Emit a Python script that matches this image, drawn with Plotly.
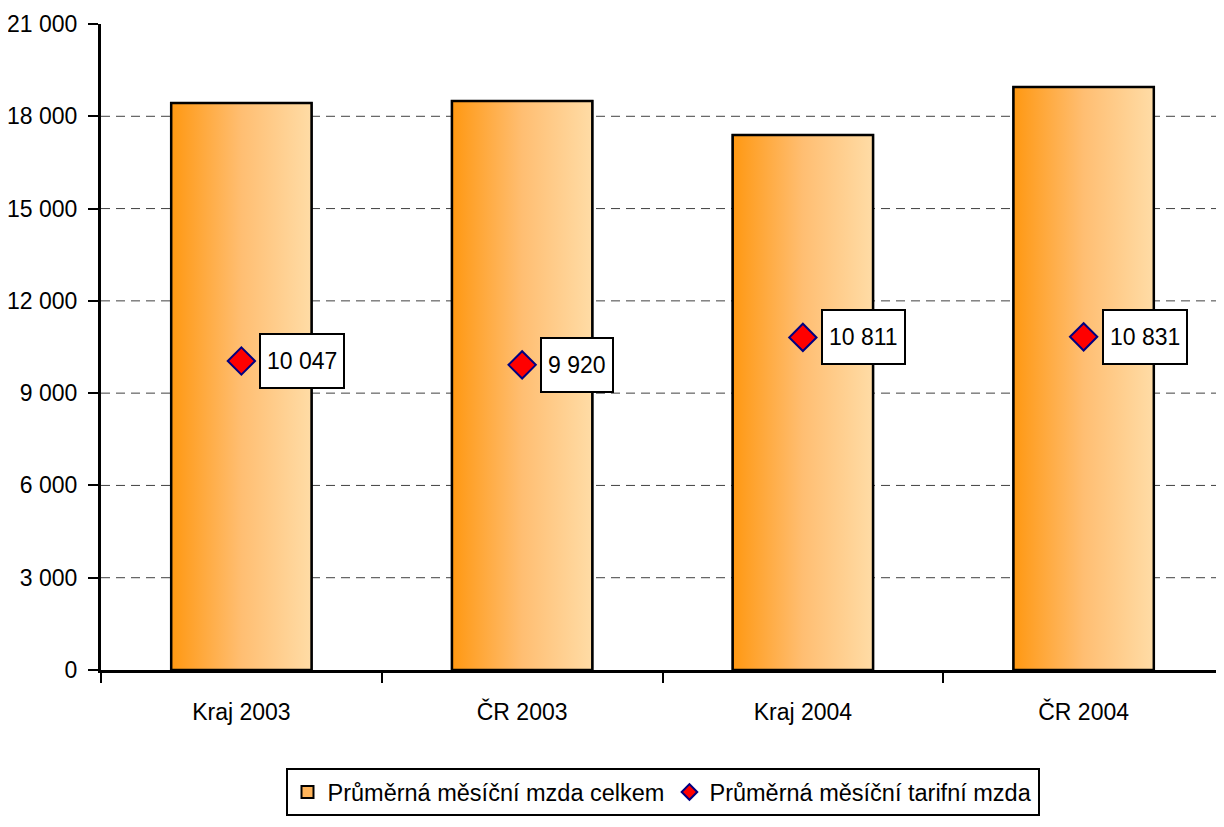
import plotly.graph_objects as go

categories = ["Kraj 2003", "ČR 2003", "Kraj 2004", "ČR 2004"]
mzda_celkem = [18432, 18497, 17392, 18952]
mzda_tarifni = [10047, 9920, 10811, 10831]
y_ticks = [0, 3000, 6000, 9000, 12000, 15000, 18000, 21000]

FONT = "Liberation Sans Narrow, Arial Narrow, Liberation Sans, Arial, sans-serif"
BAR_W = 0.5
xpos = list(range(len(categories)))

fig = go.Figure()

# real bars (legend entry), gradient overlay drawn on top
fig.add_trace(go.Bar(
    x=xpos, y=mzda_celkem, width=BAR_W,
    marker=dict(color="#FFB45A", line=dict(color="black", width=2)),
    name="Průměrná měsíční mzda celkem",
    hoverinfo="skip",
))

for i, v in enumerate(mzda_celkem):
    h = BAR_W / 2
    fig.add_trace(go.Scatter(
        x=[i - h, i - h, i + h, i + h, i - h],
        y=[0, v, v, 0, 0],
        mode="lines",
        fill="toself",
        fillcolor="#FFB45A",
        fillgradient=dict(type="horizontal",
                          colorscale=[[0, "#FF9812"], [0.5, "#FFBE72"], [1, "#FFDCA6"]]),
        line=dict(color="black", width=2.5),
        showlegend=False,
        hoverinfo="skip",
    ))

fig.add_trace(go.Scatter(
    x=xpos,
    y=mzda_tarifni,
    mode="markers",
    marker=dict(symbol="diamond", size=21, color="#FF0000",
                line=dict(color="#000080", width=2)),
    name="Průměrná měsíční tarifní mzda",
))

for i, v in enumerate(mzda_tarifni):
    fig.add_annotation(
        x=i, y=v, xref="x", yref="y",
        text=f"{v:,}".replace(",", " "),
        showarrow=False, xanchor="left", yanchor="middle", xshift=18,
        height=40, valign="middle",
        bgcolor="white", bordercolor="black", borderwidth=2, borderpad=6,
        font=dict(family=FONT, size=23, color="black"),
    )

# dashed gridlines
for t in y_ticks[1:-1]:
    fig.add_shape(type="line", xref="paper", yref="y", x0=0, x1=1, y0=t, y1=t,
                  line=dict(color="#404040", width=1, dash="9px,6px"), layer="below")

fig.update_layout(
    width=1216, height=819,
    margin=dict(l=93, r=0, t=16, b=157),
    paper_bgcolor="white", plot_bgcolor="white",
    separators=", ",
    font=dict(family=FONT, size=22, color="black"),
    showlegend=True,
    legend=dict(orientation="h", x=0.5, xanchor="center", y=-0.152, yanchor="top",
                bordercolor="black", borderwidth=2, bgcolor="white",
                font=dict(family=FONT, size=23.5), itemsizing="constant",
                traceorder="normal"),
    xaxis=dict(range=[-0.5, 3.5], tickvals=xpos, ticktext=categories,
               ticks="", ticklabelstandoff=19, tickfont=dict(family=FONT, size=23),
               minor=dict(tickvals=[-0.5, 0.5, 1.5, 2.5, 3.5], ticks="outside",
                          ticklen=10, tickwidth=2, tickcolor="black", showgrid=False),
               showline=True, linecolor="black", linewidth=3,
               showgrid=False, zeroline=False, automargin=False),
    yaxis=dict(range=[0, 21000], tickvals=y_ticks, tickformat=",d",
               ticks="outside", ticklen=10, tickwidth=2, tickcolor="black",
               ticklabelstandoff=6,
               showline=True, linecolor="black", linewidth=3, showgrid=False,
               zeroline=False, tickfont=dict(family=FONT, size=23), automargin=False),
)

fig.write_html("out.html")
